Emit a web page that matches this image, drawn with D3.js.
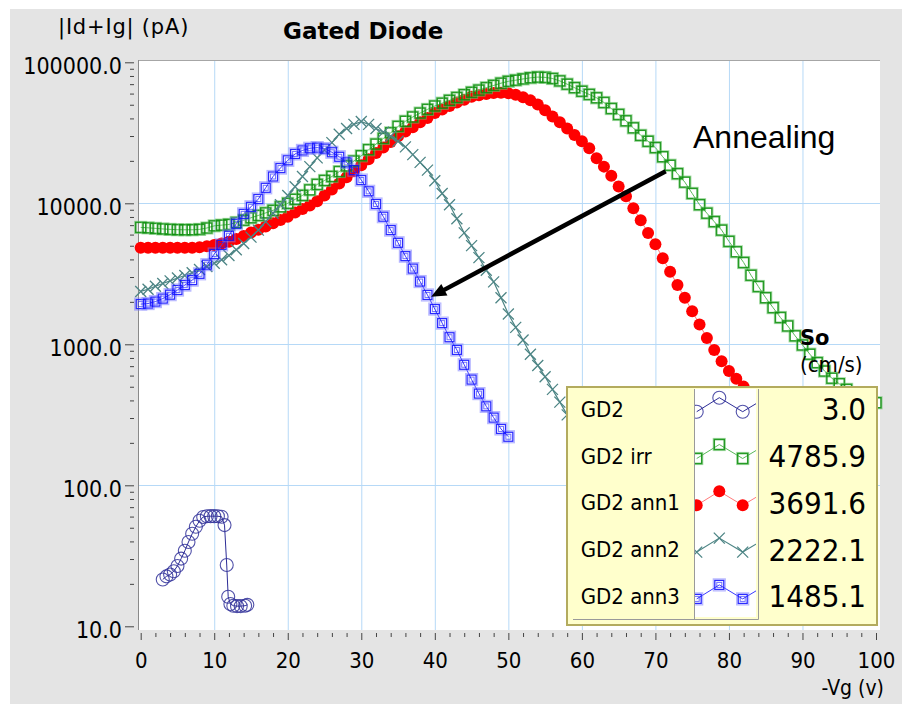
<!DOCTYPE html>
<html>
<head>
<meta charset="utf-8">
<script src="https://cdn.jsdelivr.net/npm/d3@7"></script>
<style>
  html, body { margin: 0; padding: 0; background: #fff; }
  svg { display: block; }
  text { font-family: "DejaVu Sans Condensed", "DejaVu Sans", sans-serif; fill: #000; }
</style>
</head>
<body>
<svg id="chart" width="902" height="704"></svg>
<script>
// GD2 (before irradiation): [-Vg (V), |Id+Ig| (pA)]
const gd2Points = [
  [3.0, 21.5], [3.5, 22.6], [4.0, 23.3], [4.5, 24.6], [5.0, 26.8], [5.5, 30.2],
  [6.0, 34.3], [6.5, 39.6], [7.0, 45.3], [7.5, 50.8], [8.0, 56.0], [8.5, 59.6],
  [9.0, 60.3], [9.5, 60.4], [10.0, 60.4], [10.5, 60.3], [11.0, 59.9], [11.4, 52.2],
  [11.7, 27.2], [11.9, 16.2], [12.2, 14.4], [12.6, 14.0], [13.1, 13.9], [13.6, 13.9],
  [14.2, 14.0], [14.5, 14.2]
];

// sweeps below start at 0 V, 1 V per point (pA)
const irrValues = [
  6745, 6700, 6640, 6580, 6530, 6500, 6490, 6490, 6530, 6680,
  6920, 7000, 7080, 7310, 7590, 7890, 8200, 8550, 8910, 9440,
  10000, 10670, 11380, 12450, 13610, 14520, 15490, 16790, 18410, 19950,
  21730, 23990, 26300, 28840, 31620, 35080, 38190, 40930, 43650, 46340,
  48980, 51290, 53700, 56230, 58880, 61240, 63530, 66070, 68550, 71120,
  73280, 74640, 76210, 77620, 78520, 78160, 76740, 73790, 69980, 66070,
  62370, 59160, 55980, 51880, 46990, 42660, 38460, 34280, 30340, 27540,
  24830, 21380, 18620, 16220, 14130, 11750, 9772, 8511, 7413, 6457,
  5370, 4529, 3802, 3090, 2570, 2138, 1820, 1549, 1349, 1148,
  989, 851, 741, 646, 575, 525, 479, 447, 417, 398, 385
];
const ann1Values = [
  4831, 4831, 4831, 4831, 4831, 4831, 4831, 4842, 4875, 4955,
  5058, 5188, 5333, 5572, 5861, 6209, 6486, 6839, 7211, 7621,
  8035, 8590, 9120, 9661, 10350, 11350, 12530, 13840, 15280, 16870,
  18620, 20560, 22700, 24830, 27230, 29850, 32280, 34670, 37580, 40270,
  43650, 46240, 48980, 51880, 54330, 56890, 58480, 59570, 60530, 60810,
  60260, 58880, 56490, 53700, 50120, 45710, 41210, 37580, 33880, 30550,
  27540, 24550, 20890, 18200, 15670, 13180, 11220, 9226, 7586, 6166,
  5129, 4074, 3273, 2630, 2138, 1718, 1380, 1109, 912, 759,
  646, 569, 501
];
const ann2Values = [
  2371, 2455, 2582, 2698, 2818, 2951, 3076, 3221, 3388, 3565,
  3758, 3981, 4266, 4677, 5188, 5754, 6457, 7413, 8511, 9772,
  11350, 13120, 15490, 18200, 20990, 23880, 26920, 30900, 33880, 36310,
  38020, 36310, 33880, 31990, 29850, 27540, 25120, 22130, 19500, 17180,
  14450, 11750, 9772, 7762, 6166, 5012, 4121, 3350, 2773, 2138,
  1641, 1318, 1072, 851, 708, 589, 479, 389, 316
];
const ann3Values = [
  1928, 1945, 2009, 2109, 2249, 2427, 2630, 2851, 3162, 3673,
  4365, 5070, 5888, 7161, 8414, 9441, 10720, 12880, 15490, 17780,
  20180, 22390, 23710, 24550, 24830, 24430, 23010, 21380, 19500, 17180,
  14620, 12160, 9886, 8035, 6457, 5248, 4217, 3443, 2786, 2239,
  1778, 1413, 1122, 912, 716, 562, 447, 363, 302, 251, 221
];

const seriesLabels = ['GD2', 'GD2 irr', 'GD2 ann1', 'GD2 ann2', 'GD2 ann3'];
const soValues = ['3.0', '4785.9', '3691.6', '2222.1', '1485.1'];

const xTickValues = [0, 10, 20, 30, 40, 50, 60, 70, 80, 90, 100];
const yTickValues = [10, 100, 1000, 10000, 100000];

// annotation arrow, data coords [-Vg, pA]
const arrowFrom = [71.4, 16900];
const arrowTo = [39.5, 2170];

const svg = d3.select('#chart');
const W = 902, H = 704;
const plot = { left: 138, top: 60, right: 880, bottom: 630 };

svg.append('rect').attr('width', W).attr('height', H).attr('fill', '#fff');
svg.append('rect')
  .attr('x', 10).attr('y', 9)
  .attr('width', W - 10).attr('height', H - 9)
  .attr('fill', '#e4e4e4');

const x = d3.scaleLinear().domain([0, 100]).range([140.7, 876]);
const y = d3.scaleLog().domain([10, 100000]).range([626.3, 62.3]);

// Plot area
svg.append('rect')
  .attr('x', plot.left).attr('y', plot.top)
  .attr('width', plot.right - plot.left).attr('height', plot.bottom - plot.top)
  .attr('fill', '#fff');

// Grid
svg.append('g').selectAll('line')
  .data(xTickValues.filter(d => d > 0 && d < 100))
  .join('line')
  .attr('x1', d => x(d) + 0.5).attr('x2', d => x(d) + 0.5)
  .attr('y1', plot.top).attr('y2', plot.bottom)
  .attr('stroke', '#b6d9f7').attr('stroke-width', 1);
svg.append('g').selectAll('line')
  .data(yTickValues.filter(d => d > 10 && d < 100000))
  .join('line')
  .attr('x1', plot.left).attr('x2', plot.right)
  .attr('y1', d => Math.round(y(d)) + 0.5).attr('y2', d => Math.round(y(d)) + 0.5)
  .attr('stroke', '#b6d9f7').attr('stroke-width', 1);

svg.append('line')
  .attr('x1', plot.left).attr('x2', plot.right)
  .attr('y1', plot.top + 0.5).attr('y2', plot.top + 0.5)
  .attr('stroke', '#a6a6a6');
svg.append('line')
  .attr('x1', plot.left + 0.5).attr('x2', plot.left + 0.5)
  .attr('y1', plot.top).attr('y2', plot.bottom)
  .attr('stroke', '#8a8a8a');

// Axes
const yMinor = [];
yTickValues.slice(0, -1).forEach(d => { for (let k = 2; k < 10; k++) yMinor.push(d * k); });

const yMinorAxis = svg.append('g')
  .attr('transform', 'translate(134,0)')
  .call(d3.axisLeft(y).tickValues(yMinor).tickSize(4).tickFormat(''));
const yAxis = svg.append('g')
  .attr('transform', 'translate(134,0)')
  .call(d3.axisLeft(y).tickValues(yTickValues).tickSize(9).tickPadding(3).tickFormat(d3.format('.1f')));
yAxis.selectAll('text').attr('font-size', '23px').attr('dy', '0.5em');

const xMinor = d3.range(0, 101, 2).filter(d => d % 10 !== 0);
const xMinorAxis = svg.append('g')
  .attr('transform', 'translate(0,633)')
  .call(d3.axisBottom(x).tickValues(xMinor).tickSize(4).tickFormat(''));
const xAxis = svg.append('g')
  .attr('transform', 'translate(0,633)')
  .call(d3.axisBottom(x).tickValues(xTickValues).tickSize(7).tickPadding(12));
xAxis.selectAll('text').attr('font-size', '22px');

[yMinorAxis, yAxis, xMinorAxis, xAxis].forEach(a => {
  a.select('.domain').remove();
  a.selectAll('line').attr('stroke', '#444');
  a.selectAll('text').attr('fill', '#000').style('font-family', '"DejaVu Sans Condensed", "DejaVu Sans", sans-serif');
});

// Titles
svg.append('text')
  .attr('x', 58).attr('y', 34)
  .attr('font-size', '21px')
  .attr('letter-spacing', '0.8px')
  .style('font-family', '"DejaVu Sans", sans-serif')
  .text('|Id+Ig| (pA)');
svg.append('text')
  .attr('x', 283).attr('y', 38.5)
  .attr('font-size', '23px')
  .attr('font-weight', 'bold')
  .style('font-family', '"DejaVu Sans", sans-serif')
  .text('Gated Diode');
svg.append('text')
  .attr('x', 884).attr('y', 695)
  .attr('text-anchor', 'end')
  .attr('font-size', '21px')
  .text('-Vg (v)');

// Markers
function drawMarker(g, type) {
  if (type === 'circle') {
    g.append('circle').attr('r', 6.5)
      .attr('fill', 'none').attr('stroke', '#33339a').attr('stroke-width', 1.1).attr('stroke-opacity', 0.85);
  } else if (type === 'square') {
    g.append('rect').attr('x', -6).attr('y', -6).attr('width', 12).attr('height', 12)
      .attr('fill', 'none').attr('stroke', '#6cc46c').attr('stroke-width', 1.2).attr('stroke-opacity', 0.6);
    g.append('rect').attr('x', -5).attr('y', -5).attr('width', 10).attr('height', 10)
      .attr('fill', 'none').attr('stroke', '#0f900f').attr('stroke-width', 1.5).attr('stroke-opacity', 0.9);
  } else if (type === 'dot') {
    g.append('circle').attr('r', 6).attr('fill', '#ff0000');
  } else if (type === 'cross') {
    g.append('path').attr('d', 'M-5.5,-5.5L5.5,5.5M-5.5,5.5L5.5,-5.5')
      .attr('stroke', '#4d8585').attr('stroke-width', 1.3);
  } else if (type === 'dsquare') {
    g.append('rect').attr('x', -6).attr('y', -6).attr('width', 12).attr('height', 12)
      .attr('fill', 'none').attr('stroke', '#7a7aff').attr('stroke-width', 1.2).attr('stroke-opacity', 0.55);
    g.append('rect').attr('x', -4.5).attr('y', -4.5).attr('width', 9).attr('height', 9)
      .attr('fill', 'none').attr('stroke', '#1414ff').attr('stroke-width', 1.3).attr('stroke-opacity', 0.9);
    g.append('rect').attr('x', -2.5).attr('y', -2.5).attr('width', 5).attr('height', 5)
      .attr('fill', 'none').attr('stroke', '#1414ff').attr('stroke-width', 1).attr('stroke-opacity', 0.6);
  }
}

const fromSweep = vals => vals.map((v, i) => [i, v]);

const series = [
  { label: seriesLabels[2], pts: fromSweep(ann1Values), marker: 'dot', line: '#ff7a7a', lw: 1 },
  { label: seriesLabels[1], pts: fromSweep(irrValues), marker: 'square', line: '#58b858', lw: 1 },
  { label: seriesLabels[3], pts: fromSweep(ann2Values), marker: 'cross', line: '#4d8585', lw: 1.2 },
  { label: seriesLabels[4], pts: fromSweep(ann3Values), marker: 'dsquare', line: '#3a3aff', lw: 1 },
  { label: seriesLabels[0], pts: gd2Points, marker: 'circle', line: '#2c2c96', lw: 1 },
];

const line = d3.line().x(d => x(d[0])).y(d => y(d[1]));

series.forEach(s => {
  const g = svg.append('g');
  g.append('path')
    .attr('d', line(s.pts))
    .attr('fill', 'none')
    .attr('stroke', s.line)
    .attr('stroke-width', s.lw);
  g.selectAll('.pt')
    .data(s.pts)
    .join('g')
    .attr('class', 'pt')
    .attr('transform', d => `translate(${x(d[0])},${y(d[1])})`)
    .each(function() { drawMarker(d3.select(this), s.marker); });
});

// Annealing arrow
const ax1 = x(arrowFrom[0]), ay1 = y(arrowFrom[1]);
const ax2 = x(arrowTo[0]), ay2 = y(arrowTo[1]);
const ang = Math.atan2(ay2 - ay1, ax2 - ax1);
const headLen = 15, headHalf = 6.5;
svg.append('line')
  .attr('x1', ax1).attr('y1', ay1)
  .attr('x2', ax2 - Math.cos(ang) * 10).attr('y2', ay2 - Math.sin(ang) * 10)
  .attr('stroke', '#000').attr('stroke-width', 4.5);
const bx = ax2 - Math.cos(ang) * headLen, by = ay2 - Math.sin(ang) * headLen;
svg.append('path')
  .attr('d', `M${ax2},${ay2}L${bx + Math.sin(ang) * headHalf},${by - Math.cos(ang) * headHalf}` +
             `L${bx - Math.sin(ang) * headHalf},${by + Math.cos(ang) * headHalf}Z`)
  .attr('fill', '#000');

svg.append('text')
  .attr('x', 693).attr('y', 148)
  .attr('font-size', '32px')
  .style('font-family', '"Liberation Sans", Arial, sans-serif')
  .text('Annealing');

// So header
svg.append('text')
  .attr('x', 800).attr('y', 345)
  .attr('font-size', '21px').attr('font-weight', 'bold')
  .style('font-family', '"DejaVu Sans", sans-serif')
  .text('So');
svg.append('text')
  .attr('x', 800).attr('y', 372)
  .attr('font-size', '22px')
  .text('(cm/s)');

// Legend
const leg = { x: 567, y: 387, w: 310, h: 238, symX: 694, symW: 62, panelR: 758, row0: 408.7, rowStep: 46.8 };
const lg = svg.append('g');
lg.append('rect')
  .attr('x', leg.x).attr('y', leg.y).attr('width', leg.w).attr('height', leg.h)
  .attr('fill', '#ffffcc').attr('stroke', '#b3ab5e').attr('stroke-width', 2);
lg.append('rect')
  .attr('x', leg.symX).attr('y', 389).attr('width', leg.symW).attr('height', 228)
  .attr('fill', '#fff');
lg.append('line')
  .attr('x1', leg.symX + 0.5).attr('x2', leg.symX + 0.5).attr('y1', 389).attr('y2', 619)
  .attr('stroke', '#9a9a9a');
lg.append('line')
  .attr('x1', leg.panelR + 0.5).attr('x2', leg.panelR + 0.5).attr('y1', 389).attr('y2', 619.5)
  .attr('stroke', '#9a9a9a');
lg.append('line')
  .attr('x1', 573).attr('x2', leg.panelR + 0.5).attr('y1', 619.5).attr('y2', 619.5)
  .attr('stroke', '#9a9a9a');

svg.append('clipPath').attr('id', 'symclip')
  .append('rect').attr('x', leg.symX + 1).attr('y', 389).attr('width', leg.symW - 1).attr('height', 228);

const legendOrder = [4, 1, 0, 2, 3]; // index into series, in label order
seriesLabels.forEach((lab, i) => {
  const cy = leg.row0 + i * leg.rowStep;
  const s = series[legendOrder[i]];
  lg.append('text')
    .attr('x', 580.7).attr('y', cy + 8)
    .attr('font-size', '22px')
    .text(lab);
  lg.append('text')
    .attr('x', 866).attr('y', cy + 11.5)
    .attr('text-anchor', 'end')
    .attr('font-size', '31px')
    .text(soValues[i]);
  const sym = [[leg.symX + 2.7, cy + 3], [leg.symX + 25.3, cy - 11], [leg.symX + 48.7, cy + 3], [leg.symX + 72, cy - 11]];
  const sg = lg.append('g').attr('clip-path', 'url(#symclip)');
  sg.append('path')
    .attr('d', d3.line()(sym))
    .attr('fill', 'none').attr('stroke', s.line).attr('stroke-width', s.lw);
  sg.selectAll('g')
    .data(sym)
    .join('g')
    .attr('transform', d => `translate(${d[0]},${d[1]})`)
    .each(function() { drawMarker(d3.select(this), s.marker); });
});
</script>
</body>
</html>
